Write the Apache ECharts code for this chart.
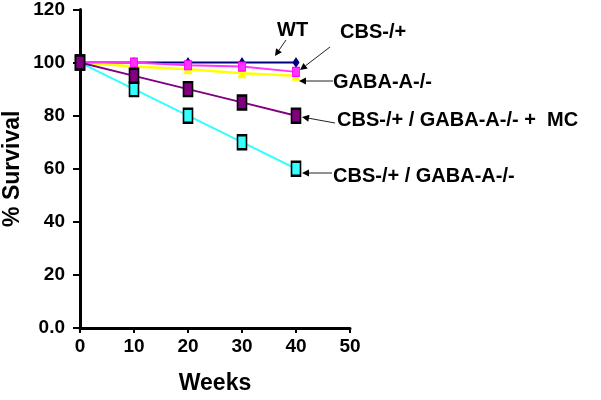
<!DOCTYPE html>
<html>
<head>
<meta charset="utf-8">
<script src="https://cdn.jsdelivr.net/npm/echarts@6/dist/echarts.min.js"></script>
<style>html,body{margin:0;padding:0;background:#fff;}#c{width:601px;height:400px;}</style>
</head>
<body>
<div id="c"></div>
<script>
var weeks = [0, 10, 20, 30, 40];
var wt = [100, 100, 100, 100, 100];
var cbs = [100, 100, 99, 98.5, 96.5];
var gaba = [100, 98.5, 97.5, 96, 95];
var cbsGabaMC = [100, 95, 90, 85, 80];
var cbsGaba = [100, 90, 80, 70, 60];
var seriesNames = ['WT', 'CBS-/+', 'GABA-A-/-', 'CBS-/+ / GABA-A-/- +  MC', 'CBS-/+ / GABA-A-/-'];
var xTicks = [0, 10, 20, 30, 40, 50];
var yTicks = [0, 20, 40, 60, 80, 100, 120];

function pairs(ys) { return weeks.map(function (w, i) { return [w, ys[i]]; }); }

var FONT = 'Liberation Sans, Arial, sans-serif';

function arrow(x1, y1, x2, y2) {
  var ang = Math.atan2(y2 - y1, x2 - x1);
  var L = 7, W = 3.5;
  var bx = x2 - L * Math.cos(ang), by = y2 - L * Math.sin(ang);
  var px = -Math.sin(ang) * W, py = Math.cos(ang) * W;
  return [
    { type: 'line', shape: { x1: x1, y1: y1, x2: bx, y2: by }, style: { stroke: '#222', lineWidth: 1 }, z: 100 },
    { type: 'polygon', shape: { points: [[x2, y2], [bx + px, by + py], [bx - px, by - py]] }, style: { fill: '#000' }, z: 100 }
  ];
}
function label(text, x, y) {
  return { type: 'text', x: x, y: y, style: { text: text, font: 'bold 20px ' + FONT, fill: '#000', verticalAlign: 'middle', textAlign: 'left' }, z: 100 };
}

var graphics = [].concat(
  [label(seriesNames[0], 277, 30)], arrow(286, 40, 275, 56),
  [label(seriesNames[1], 340, 32)], arrow(330, 47, 300, 70),
  [label(seriesNames[2], 333, 82)], arrow(333, 81, 299, 81),
  [label(seriesNames[3], 337, 120)], arrow(335, 123, 302, 117),
  [label(seriesNames[4], 333, 176)], arrow(332, 173, 302, 173)
);

var chart = echarts.init(document.getElementById('c'));
chart.setOption({
  animation: false,
  backgroundColor: '#fff',
  grid: { left: 78, right: 251, top: 8, bottom: 63 },
  xAxis: {
    type: 'value', min: 0, max: 50, interval: 10,
    name: 'Weeks', nameLocation: 'middle', nameGap: 44,
    nameTextStyle: { fontFamily: FONT, fontWeight: 'bold', fontSize: 23, color: '#000' },
    axisLine: { show: true, lineStyle: { color: '#000', width: 3 } },
    axisTick: { show: true, length: 5, lineStyle: { color: '#000', width: 2 } },
    axisLabel: { fontFamily: FONT, fontWeight: 'bold', fontSize: 19, color: '#000', margin: 9,
      formatter: function (v) { return xTicks.indexOf(v) >= 0 ? String(v) : ''; } },
    splitLine: { show: false }
  },
  yAxis: {
    type: 'value', min: 0, max: 120, interval: 20,
    name: '% Survival', nameLocation: 'middle', nameGap: 56,
    nameTextStyle: { fontFamily: FONT, fontWeight: 'bold', fontSize: 23, color: '#000' },
    axisLine: { show: true, lineStyle: { color: '#000', width: 3 } },
    axisTick: { show: true, length: 7, lineStyle: { color: '#000', width: 2 } },
    axisLabel: { fontFamily: FONT, fontWeight: 'bold', fontSize: 19, color: '#000', margin: 15,
      formatter: function (v) { return v === 0 ? '0.0' : (yTicks.indexOf(v) >= 0 ? String(v) : ''); } },
    splitLine: { show: false }
  },
  series: [
    { name: seriesNames[0], type: 'line', data: pairs(wt), color: '#000080', lineStyle: { width: 2 },
      symbol: 'diamond', symbolSize: [7, 11], itemStyle: { color: '#000080' }, z: 2 },
    { name: seriesNames[2], type: 'line', data: pairs(gaba), color: '#ffff00', lineStyle: { width: 2.5 },
      symbol: 'triangle', symbolSize: [9, 10], itemStyle: { color: '#ffff00' }, z: 3 },
    { name: seriesNames[1], type: 'line', data: pairs(cbs), color: '#ff00ff', lineStyle: { width: 2 },
      symbol: 'rect', symbolSize: [7, 9], itemStyle: { color: '#ff33ff', borderColor: '#ff00ff', borderWidth: 1 }, z: 4 },
    { name: seriesNames[4], type: 'line', data: pairs(cbsGaba), color: '#33ffff', lineStyle: { width: 2 },
      symbol: 'rect', symbolSize: [9, 14], itemStyle: { color: '#33ffff', borderColor: '#000', borderWidth: 2 }, z: 5 },
    { name: seriesNames[3], type: 'line', data: pairs(cbsGabaMC), color: '#800080', lineStyle: { width: 2 },
      symbol: 'rect', symbolSize: [9, 14], itemStyle: { color: '#800080', borderColor: '#000', borderWidth: 2 }, z: 6 }
  ],
  graphic: graphics
});
</script>
</body>
</html>
